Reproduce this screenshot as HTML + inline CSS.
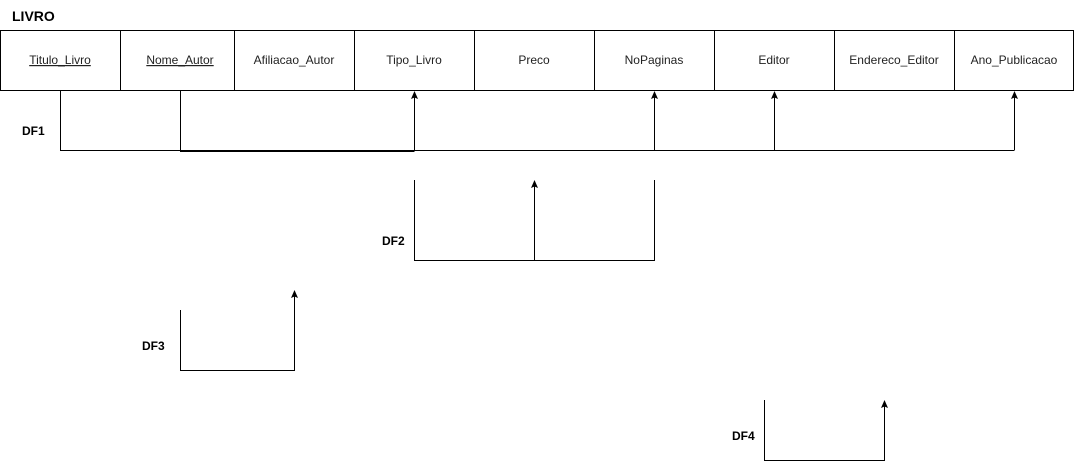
<!DOCTYPE html>
<html><head><meta charset="utf-8"><style>
body{margin:0;background:#fff;width:1075px;height:470px;overflow:hidden;font-family:"Liberation Sans",Arial,sans-serif}
</style></head><body>
<svg width="1075" height="470" xmlns="http://www.w3.org/2000/svg" font-family="Liberation Sans, Arial, sans-serif">
<text x="12" y="21" font-size="14" font-weight="bold">LIVRO</text>
<g fill="none" stroke="#000" stroke-width="1">
<rect x="0.5" y="30.5" width="1073" height="60"/>
<line x1="120.5" y1="30" x2="120.5" y2="90"/>
<line x1="234.5" y1="30" x2="234.5" y2="90"/>
<line x1="354.5" y1="30" x2="354.5" y2="90"/>
<line x1="474.5" y1="30" x2="474.5" y2="90"/>
<line x1="594.5" y1="30" x2="594.5" y2="90"/>
<line x1="714.5" y1="30" x2="714.5" y2="90"/>
<line x1="834.5" y1="30" x2="834.5" y2="90"/>
<line x1="954.5" y1="30" x2="954.5" y2="90"/>
<polyline points="60.5,90 60.5,150.5 1014.5,150.5"/>
<polyline points="180.5,90 180.5,151.5 414.5,151.5"/>
<line x1="414.5" y1="150" x2="414.5" y2="96"/>
<line x1="654.5" y1="150" x2="654.5" y2="96"/>
<line x1="774.5" y1="150" x2="774.5" y2="96"/>
<line x1="1014.5" y1="150" x2="1014.5" y2="96"/>
<polyline points="414.5,180 414.5,260.5 654.5,260.5 654.5,180"/>
<line x1="534.5" y1="260" x2="534.5" y2="186"/>
<polyline points="180.5,310 180.5,370.5 294.5,370.5 294.5,296"/>
<polyline points="764.5,400 764.5,460.5 884.5,460.5 884.5,406"/>
</g>
<g fill="#000">
<path d="M414.5,91 L411,99 L414.5,97.5 L418,99 Z"/>
<path d="M654.5,91 L651,99 L654.5,97.5 L658,99 Z"/>
<path d="M774.5,91 L771,99 L774.5,97.5 L778,99 Z"/>
<path d="M1014.5,91 L1011,99 L1014.5,97.5 L1018,99 Z"/>
<path d="M534.5,180 L531,188 L534.5,186.5 L538,188 Z"/>
<path d="M294.5,290 L291,298 L294.5,296.5 L298,298 Z"/>
<path d="M884.5,400 L881,408 L884.5,406.5 L888,408 Z"/>
</g>
<g font-size="12" fill="#222" text-anchor="middle">
<text x="60" y="64" text-decoration="underline">Titulo_Livro</text>
<text x="180" y="64" text-decoration="underline">Nome_Autor</text>
<text x="294" y="64">Afiliacao_Autor</text>
<text x="414" y="64">Tipo_Livro</text>
<text x="534" y="64">Preco</text>
<text x="654" y="64">NoPaginas</text>
<text x="774" y="64">Editor</text>
<text x="894" y="64">Endereco_Editor</text>
<text x="1014" y="64">Ano_Publicacao</text>
</g>
<g font-size="12" font-weight="bold">
<text x="22" y="135">DF1</text>
<text x="382" y="245">DF2</text>
<text x="142" y="350">DF3</text>
<text x="732" y="440">DF4</text>
</g>
</svg>
</body></html>
